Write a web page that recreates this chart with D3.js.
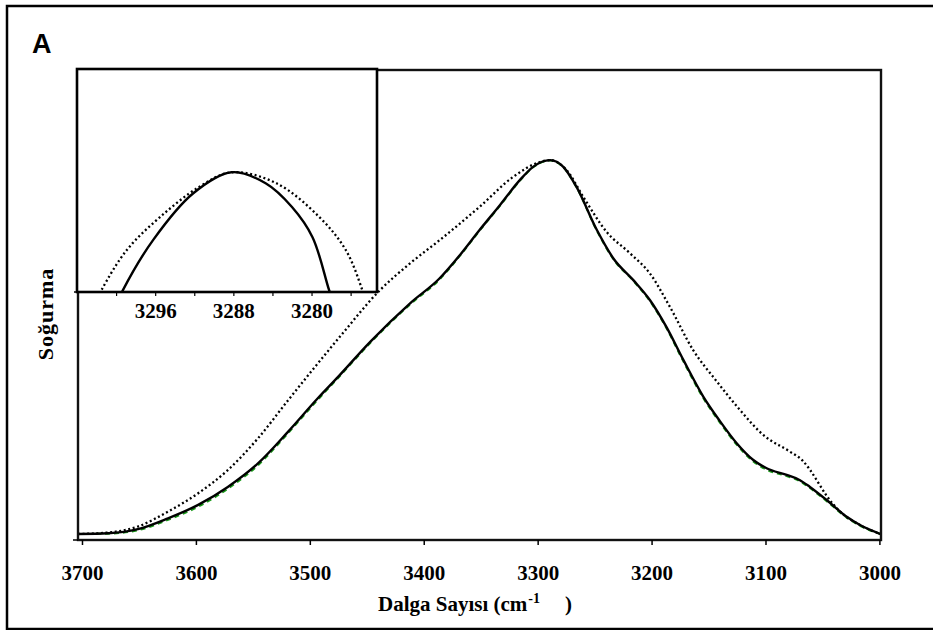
<!DOCTYPE html>
<html>
<head>
  <meta charset="utf-8">
  <title>Soğurma spektrumu</title>
  <script src="https://d3js.org/d3.v7.min.js"></script>
  <style>
    body { margin: 0; background: #fff; }
    text { font-family: "Liberation Serif", "Times New Roman", serif; font-weight: bold; fill: #000; }
  </style>
</head>
<body>
  <script>
    // main spectrum (wavenumber, cm-1) and absorbance
    var solidWave = [3703.5, 3677, 3651, 3624.5, 3598, 3572, 3545.5, 3519, 3493, 3475, 3447, 3412, 3386, 3368, 3351, 3333, 3315.5, 3304, 3289, 3277.5, 3266, 3248, 3233.5, 3216, 3201.5, 3187, 3172, 3154.5, 3140, 3125.3, 3110.7, 3099, 3081.4, 3069.7, 3061, 3046.3, 3028.7, 3017, 2999];
    var solidAbs  = [0.000, 0.002, 0.013, 0.042, 0.078, 0.126, 0.189, 0.274, 0.363, 0.421, 0.514, 0.617, 0.684, 0.747, 0.813, 0.880, 0.947, 0.982, 1.000, 0.982, 0.929, 0.813, 0.737, 0.679, 0.626, 0.554, 0.465, 0.367, 0.302, 0.243, 0.198, 0.176, 0.158, 0.144, 0.126, 0.091, 0.046, 0.024, 0.000];
    var greenAbs  = [0.000, 0.001, 0.010, 0.038, 0.073, 0.121, 0.184, 0.270, 0.359, 0.418, 0.511, 0.614, 0.681, 0.745, 0.811, 0.878, 0.945, 0.981, 0.999, 0.981, 0.928, 0.811, 0.735, 0.677, 0.623, 0.551, 0.461, 0.363, 0.298, 0.239, 0.194, 0.172, 0.155, 0.141, 0.123, 0.088, 0.044, 0.022, 0.000];
    var dotWave = [3703.5, 3677, 3651, 3624.5, 3598, 3572, 3545.5, 3519, 3473.5, 3438.5, 3412, 3386, 3351, 3321.5, 3298, 3289, 3274.5, 3260, 3239.5, 3219, 3201.5, 3184, 3163.5, 3143, 3122.5, 3102, 3078.5, 3067, 3061, 3054, 3046.3, 3034.5, 3017, 2999];
    var dotAbs  = [0.000, 0.004, 0.020, 0.060, 0.109, 0.171, 0.256, 0.358, 0.528, 0.652, 0.724, 0.786, 0.875, 0.955, 0.995, 1.000, 0.973, 0.902, 0.808, 0.751, 0.697, 0.608, 0.492, 0.409, 0.332, 0.265, 0.220, 0.195, 0.172, 0.139, 0.102, 0.060, 0.024, 0.000];
    var xTicks = [3700, 3600, 3500, 3400, 3300, 3200, 3100, 3000];

    // inset: zoom on the peak
    var insetSolidWave = [3300.2, 3299.3, 3296.2, 3292.1, 3288.2, 3284.7, 3282, 3279.9, 3278.2, 3277.5];
    var insetSolidAbs  = [0.985, 0.9872, 0.9927, 0.9978, 1.0001, 0.9989, 0.9963, 0.9930, 0.9872, 0.985];
    var insetDotWave = [3302.5, 3301.5, 3298.9, 3295.5, 3291.5, 3288.2, 3283.6, 3279.2, 3276.5, 3274.8, 3274.2];
    var insetDotAbs  = [0.985, 0.9872, 0.9916, 0.9952, 0.9985, 1.0001, 0.9989, 0.9952, 0.9916, 0.9872, 0.985];
    var insetTicks = [3300, 3296, 3292, 3288, 3284, 3280, 3276];
    var insetLabels = [3296, 3288, 3280];

    var W = 933, H = 630;
    var plot = { left: 78, top: 70, right: 881, bottom: 540 };
    var inset = { left: 77, top: 69, right: 377, bottom: 292 };

    var svg = d3.select('body').append('svg')
      .attr('width', W)
      .attr('height', H);

    svg.append('rect')
      .attr('x', 7).attr('y', 6)
      .attr('width', 945).attr('height', 623)
      .attr('fill', '#fff')
      .attr('stroke', '#000')
      .attr('stroke-width', 2.5);

    var x = d3.scaleLinear().domain([3703.5, 2998.6]).range([plot.left, plot.right]);
    var y = d3.scaleLinear().domain([-0.016, 1.241]).range([plot.bottom, plot.top]);

    svg.append('clipPath').attr('id', 'plotClip')
      .append('rect')
      .attr('x', plot.left).attr('y', plot.top)
      .attr('width', plot.right - plot.left).attr('height', plot.bottom - plot.top);

    function zip(a, b) {
      return a.map(function(d, i) { return [d, b[i]]; });
    }

    var line = d3.line()
      .x(function(d) { return x(d[0]); })
      .y(function(d) { return y(d[1]); })
      .curve(d3.curveMonotoneX);

    var curves = svg.append('g').attr('clip-path', 'url(#plotClip)');

    curves.append('path')
      .attr('d', line(zip(solidWave, greenAbs)))
      .attr('fill', 'none')
      .attr('stroke', '#1a9a1a')
      .attr('stroke-width', 2)
      .attr('stroke-dasharray', '5,4');
    curves.append('path')
      .attr('d', line(zip(dotWave, dotAbs)))
      .attr('fill', 'none')
      .attr('stroke', '#000')
      .attr('stroke-width', 2.3)
      .attr('stroke-dasharray', '2,2.6');
    curves.append('path')
      .attr('d', line(zip(solidWave, solidAbs)))
      .attr('fill', 'none')
      .attr('stroke', '#000')
      .attr('stroke-width', 2.4);

    // plot frame
    svg.append('rect')
      .attr('x', plot.left).attr('y', plot.top)
      .attr('width', plot.right - plot.left).attr('height', plot.bottom - plot.top)
      .attr('fill', 'none')
      .attr('stroke', '#111')
      .attr('stroke-width', 2.4);
    svg.append('line')
      .attr('x1', plot.left - 5).attr('x2', plot.left)
      .attr('y1', plot.bottom).attr('y2', plot.bottom)
      .attr('stroke', '#000').attr('stroke-width', 1.5);

    var xAxis = svg.append('g')
      .attr('transform', 'translate(0,' + plot.bottom + ')')
      .call(d3.axisBottom(x).tickValues(xTicks).tickSize(5).tickPadding(20).tickFormat(d3.format('d')));
    xAxis.select('.domain').remove();
    xAxis.selectAll('line').attr('stroke', '#000').attr('stroke-width', 1.5);
    xAxis.selectAll('text')
      .style('font-family', '"Liberation Serif", serif')
      .style('font-weight', 'bold')
      .style('font-size', '21px')
      .attr('fill', '#000');

    // inset
    var ix = d3.scaleLinear().domain([3304, 3273.3]).range([inset.left, inset.right]);
    var iy = d3.scaleLinear().domain([0.987, 1.0114]).range([inset.bottom, inset.top]);

    svg.append('rect')
      .attr('x', inset.left).attr('y', inset.top)
      .attr('width', inset.right - inset.left).attr('height', inset.bottom - inset.top)
      .attr('fill', '#fff');

    svg.append('clipPath').attr('id', 'insetClip')
      .append('rect')
      .attr('x', inset.left).attr('y', inset.top)
      .attr('width', inset.right - inset.left).attr('height', inset.bottom - inset.top);

    var insetLine = d3.line()
      .x(function(d) { return ix(d[0]); })
      .y(function(d) { return iy(d[1]); })
      .curve(d3.curveCatmullRom.alpha(0.5));

    var insetCurves = svg.append('g').attr('clip-path', 'url(#insetClip)');
    insetCurves.append('path')
      .attr('d', insetLine(zip(insetDotWave, insetDotAbs)))
      .attr('fill', 'none')
      .attr('stroke', '#000')
      .attr('stroke-width', 2.3)
      .attr('stroke-dasharray', '2,2.6');
    insetCurves.append('path')
      .attr('d', insetLine(zip(insetSolidWave, insetSolidAbs)))
      .attr('fill', 'none')
      .attr('stroke', '#000')
      .attr('stroke-width', 2.4);

    svg.append('rect')
      .attr('x', inset.left).attr('y', inset.top)
      .attr('width', inset.right - inset.left).attr('height', inset.bottom - inset.top)
      .attr('fill', 'none')
      .attr('stroke', '#000')
      .attr('stroke-width', 2.6);
    svg.append('line')
      .attr('x1', inset.left - 3).attr('x2', inset.left)
      .attr('y1', inset.bottom).attr('y2', inset.bottom)
      .attr('stroke', '#000').attr('stroke-width', 1.5);

    var insetAxis = svg.append('g')
      .attr('transform', 'translate(0,' + inset.bottom + ')')
      .call(d3.axisBottom(ix).tickValues(insetTicks).tickSize(4).tickPadding(7)
        .tickFormat(function(d) { return insetLabels.indexOf(d) >= 0 ? d : ''; }));
    insetAxis.select('.domain').remove();
    insetAxis.selectAll('line').attr('stroke', '#000').attr('stroke-width', 1.2);
    insetAxis.selectAll('text')
      .style('font-family', '"Liberation Serif", serif')
      .style('font-weight', 'bold')
      .style('font-size', '21px')
      .attr('fill', '#000');

    // titles
    var xTitle = svg.append('text')
      .attr('x', 378).attr('y', 611)
      .style('font-size', '21px');
    xTitle.append('tspan').text('Dalga Sayısı (cm');
    xTitle.append('tspan').attr('dy', -8).attr('dx', 1).style('font-size', '14px').text('-1');
    xTitle.append('tspan').attr('x', 565).attr('dy', 8).text(')');

    svg.append('text')
      .attr('transform', 'translate(53,314) rotate(-90)')
      .attr('text-anchor', 'middle')
      .style('font-size', '22px')
      .style('letter-spacing', '1px')
      .text('Soğurma');

    svg.append('text')
      .attr('x', 32).attr('y', 53)
      .style('font-family', '"Liberation Sans", Arial, sans-serif')
      .style('font-size', '27px')
      .text('A');
  </script>
</body>
</html>
